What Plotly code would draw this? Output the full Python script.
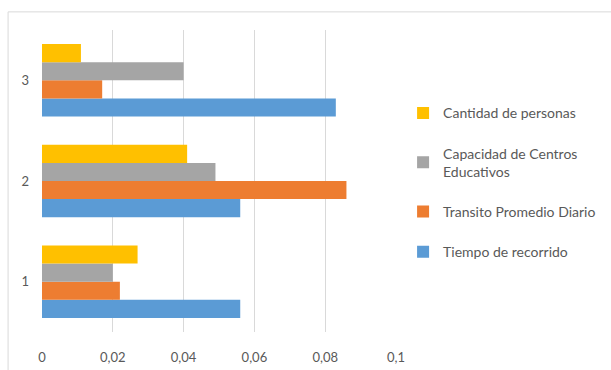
import plotly.graph_objects as go

categories = ["1", "2", "3"]
tiempo = [0.056, 0.056, 0.083]
transito = [0.022, 0.086, 0.017]
capacidad = [0.020, 0.049, 0.040]
cantidad = [0.027, 0.041, 0.011]

series = [
    ("Tiempo de recorrido", tiempo, "#5B9BD5"),
    ("Transito Promedio Diario", transito, "#ED7D31"),
    ("Capacidad de Centros<br>Educativos", capacidad, "#A5A5A5"),
    ("Cantidad de personas", cantidad, "#FFC000"),
]

fig = go.Figure()
n = len(series)
for i, (name, vals, col) in enumerate(series):
    fig.add_trace(go.Bar(y=categories, x=vals, name=name, orientation="h",
                         marker=dict(color=col, line=dict(width=0)),
                         legendgroup=str(i), legendrank=n - i))

font_col = "#595959"
fig.update_layout(
    width=611, height=370,
    margin=dict(l=42, r=215, t=30, b=38, autoexpand=False),
    paper_bgcolor="white", plot_bgcolor="white",
    barmode="group", bargap=0.28, bargroupgap=0,
    font=dict(family="Lato, Carlito, sans-serif", size=12, color=font_col),
    xaxis=dict(range=[0, 0.1], tickvals=[0, 0.02, 0.04, 0.06, 0.08, 0.1],
               ticktext=["0", "0,02", "0,04", "0,06", "0,08", "0,1"],
               showgrid=True, gridcolor="#d9d9d9", gridwidth=1,
               zeroline=False, showline=False,
               ticks="outside", ticklen=13, tickcolor="white", tickwidth=1,
               tickfont=dict(size=13, color=font_col)),
    yaxis=dict(type="category", showgrid=False, zeroline=False, showline=False,
               ticks="", ticklabelstandoff=12,
               tickfont=dict(size=13, color=font_col)),
    legend=dict(x=1.02, y=0.777, xanchor="left", yanchor="top",
                traceorder="grouped", tracegroupgap=19,
                font=dict(size=14, color=font_col), itemwidth=30,
                bgcolor="rgba(0,0,0,0)"),
    showlegend=True,
    shapes=[dict(type="rect", xref="paper", yref="paper",
                 x0=-0.0958, x1=3, y0=-2, y1=1.06,
                 line=dict(color="#d9d9d9", width=1), layer="below")],
)

fig.write_html("out.html")
